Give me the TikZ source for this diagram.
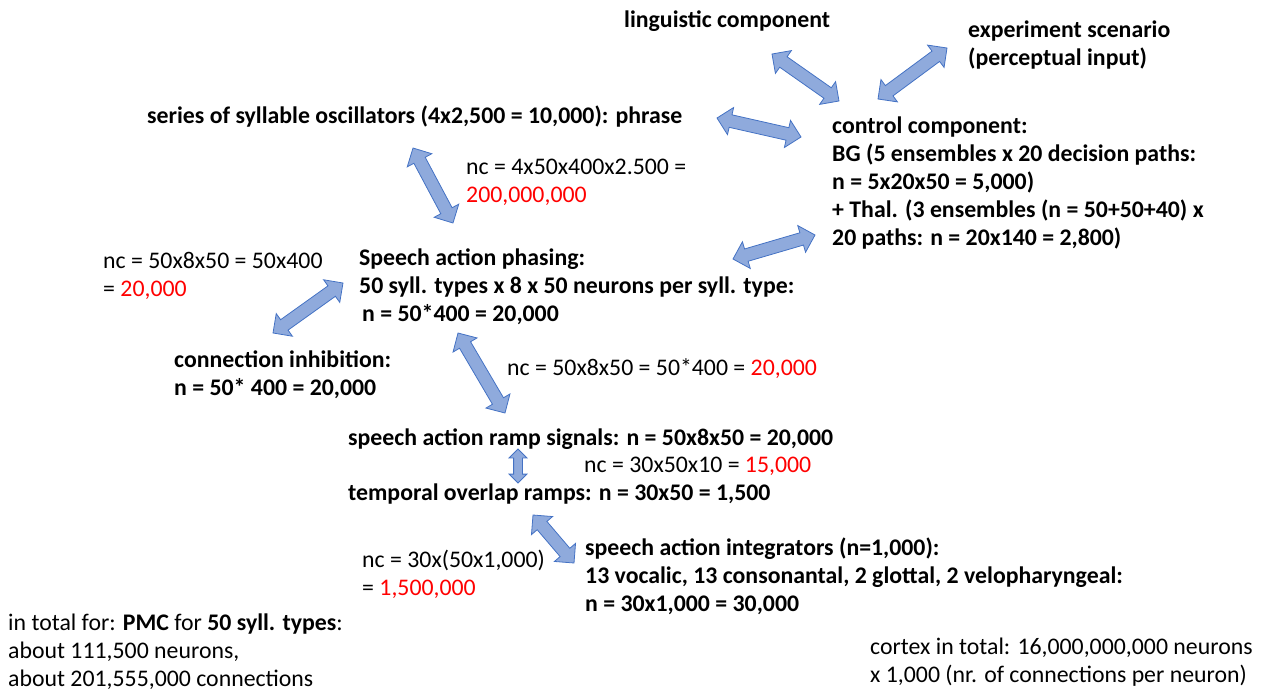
\documentclass[tikz,border=0pt]{standalone}
\usepackage{fontspec}
\setmainfont{Carlito}
\usetikzlibrary{calc, shapes.arrows}

\definecolor{arrowfill}{RGB}{143,170,220}
\definecolor{arrowline}{RGB}{68,114,196}
\definecolor{ncred}{RGB}{255,0,0}

\tikzset{
  txt/.style={anchor=base west, inner sep=0pt, align=left, font=\fontsize{23.8}{28}\selectfont},
  unit/.style={txt, font=\fontsize{23.8}{28}\selectfont\bfseries},
  biarrow/.style={double arrow, draw=arrowline, fill=arrowfill, line width=0.8pt,
    inner xsep=0pt, inner ysep=6pt, double arrow head extend=7.5pt}
}

% block arrow with a head at both ends
\newcommand{\linkarrow}[3][]{%
  \path let \p1 = ($(#3)-(#2)$) in
    node[biarrow, rotate={atan2(\y1,\x1)}, minimum height={veclen(\x1,\y1)}, #1]
      at ($(#2)!0.5!(#3)$) {};
}

\begin{document}
\begin{tikzpicture}[x=1pt, y=-1pt]
  \useasboundingbox (0,0) rectangle (1263,691);

  % multi-line nodes sit on the baseline of their last line
  \node[unit] (ling) at (624,27) {linguistic component};
  \node[unit] (expt) at (968,65) {experiment scenario\\(perceptual input)};
  \node[unit] (series) at (147,123) {series of syllable oscillators (4x2,500 = 10,000): phrase};
  \node[unit] (control) at (832,245) {control component:\\
    BG (5 ensembles x 20 decision paths:\\
    n = 5x20x50 = 5,000)\\
    + Thal. (3 ensembles (n = 50+50+40) x\\
    20 paths: n = 20x140 = 2,800)};
  \node[txt] (ncseries) at (466,202) {nc = 4x50x400x2.500 =\\\textcolor{ncred}{200,000,000}};
  \node[unit] (phasing) at (359,321) {Speech action phasing:\\
    50 syll. types x 8 x 50 neurons per syll. type:\\
    \hspace*{3pt}n = 50*400 = 20,000};
  \node[txt] (ncinhib) at (103,296) {nc = 50x8x50 = 50x400\\= \textcolor{ncred}{20,000}};
  \node[unit] (inhib) at (174,395) {connection inhibition:\\n = 50* 400 = 20,000};
  \node[txt] (ncramp) at (507,375) {nc = 50x8x50 = 50*400 = \textcolor{ncred}{20,000}};
  \node[unit] (ramp) at (348,445) {speech action ramp signals: n = 50x8x50 = 20,000};
  \node[txt] (ncoverlap) at (584,472) {nc = 30x50x10 = \textcolor{ncred}{15,000}};
  \node[unit] (overlap) at (348,500) {temporal overlap ramps: n = 30x50 = 1,500};
  \node[unit] (integr) at (585,611) {speech action integrators (n=1,000):\\
    13 vocalic, 13 consonantal, 2 glottal, 2 velopharyngeal:\\
    n = 30x1,000 = 30,000};
  \node[txt] (ncinteg) at (362,595) {nc = 30x(50x1,000)\\= \textcolor{ncred}{1,500,000}};
  \node[txt] (total) at (8,686) {in total for: \textbf{PMC} for \textbf{50 syll. types}:\\
    about 111,500 neurons,\\
    about 201,555,000 connections};
  \node[txt] (cortex) at (870,682) {cortex in total: 16,000,000,000 neurons\\
    x 1,000 (nr. of connections per neuron)};

  % arrow ends
  \coordinate (ling-a) at (772,54);   \coordinate (ling-b) at (839,101);
  \coordinate (expt-a) at (947,48);   \coordinate (expt-b) at (878,99);
  \coordinate (phrase-a) at (717,118); \coordinate (phrase-b) at (801,137);
  \coordinate (series-a) at (413,148); \coordinate (series-b) at (453,223);
  \coordinate (phasing-a) at (733,259); \coordinate (phasing-b) at (815,235);
  \coordinate (inhib-a) at (343,283); \coordinate (inhib-b) at (273,333);
  \coordinate (ramp-a) at (458,333);  \coordinate (ramp-b) at (505,413);
  \coordinate (overlap-a) at (518,449); \coordinate (overlap-b) at (518,483);
  \coordinate (integr-a) at (533,515); \coordinate (integr-b) at (574,563);

  \linkarrow{ling-a}{ling-b}
  \linkarrow{expt-a}{expt-b}
  \linkarrow{phrase-a}{phrase-b}
  \linkarrow{series-a}{series-b}
  \linkarrow{phasing-a}{phasing-b}
  \linkarrow{inhib-a}{inhib-b}
  \linkarrow{ramp-a}{ramp-b}
  \linkarrow[inner ysep=4pt, double arrow head extend=4.5pt]{overlap-a}{overlap-b}
  \linkarrow{integr-a}{integr-b}
\end{tikzpicture}
\end{document}
